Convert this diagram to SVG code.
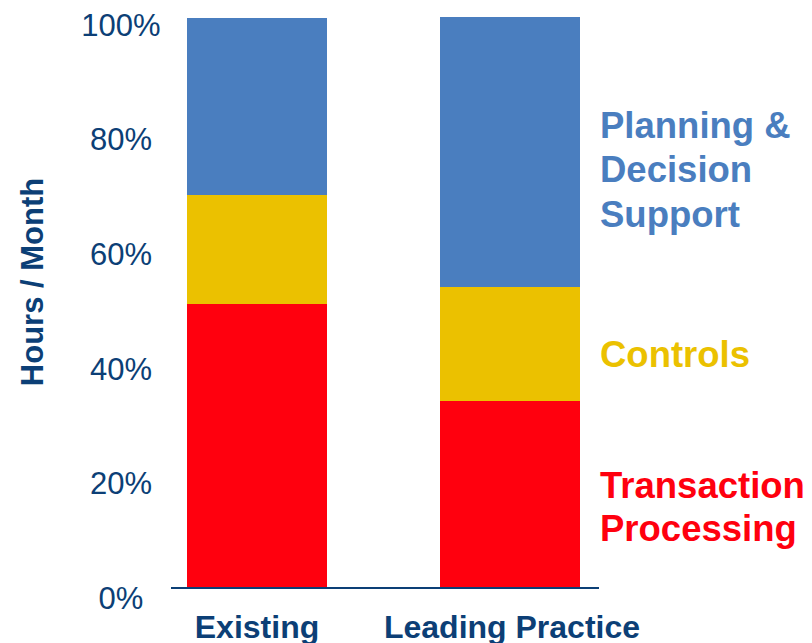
<svg xmlns="http://www.w3.org/2000/svg" width="812" height="643" viewBox="0 0 812 643">
<style>
.tick{font-family:"Liberation Sans",Arial,sans-serif;font-size:31px;fill:#0c3f76;text-anchor:middle}
.axt{font-family:"Liberation Sans",Arial,sans-serif;font-size:32px;font-weight:bold;fill:#0c3f76;text-anchor:middle}
.ttl{font-family:"Liberation Sans",Arial,sans-serif;font-size:31px;font-weight:bold;fill:#0c3f76;text-anchor:middle}
.lab{font-family:"Liberation Sans",Arial,sans-serif;font-size:36.5px;font-weight:bold}
.blue{fill:#4a7ebf}.yel{fill:#ebc100}.red{fill:#ff000e}
</style>
<rect width="812" height="643" fill="#ffffff"/>
<g id="y-axis-labels">
<text class="tick" x="121" y="36">100%</text>
<text class="tick" x="121" y="150">80%</text>
<text class="tick" x="121" y="265">60%</text>
<text class="tick" x="121" y="380">40%</text>
<text class="tick" x="121" y="494">20%</text>
<text class="tick" x="121" y="609">0%</text>
<text class="ttl" transform="translate(43 282) rotate(-90)">Hours / Month</text>
</g>
<g id="bar-existing">
<rect class="blue" x="187" y="18" width="140" height="177"/>
<rect class="yel" x="187" y="195" width="140" height="109"/>
<rect class="red" x="187" y="304" width="140" height="284"/>
<text class="axt" x="257" y="638">Existing</text>
</g>
<g id="bar-leading">
<rect class="blue" x="440" y="17" width="140" height="270"/>
<rect class="yel" x="440" y="287" width="140" height="114"/>
<rect class="red" x="440" y="401" width="140" height="187"/>
<text class="axt" x="512" y="638">Leading Practice</text>
</g>
<g id="axis">
<line x1="171" y1="588" x2="599" y2="588" stroke="#0c3f76" stroke-width="2"/>
</g>
<g id="legend">
<text class="lab blue" x="600" y="138">Planning &amp;</text>
<text class="lab blue" x="600" y="182">Decision</text>
<text class="lab blue" x="600" y="227">Support</text>
<text class="lab yel" x="600" y="367">Controls</text>
<text class="lab red" x="600" y="498">Transaction</text>
<text class="lab red" x="600" y="541">Processing</text>
</g>
</svg>
